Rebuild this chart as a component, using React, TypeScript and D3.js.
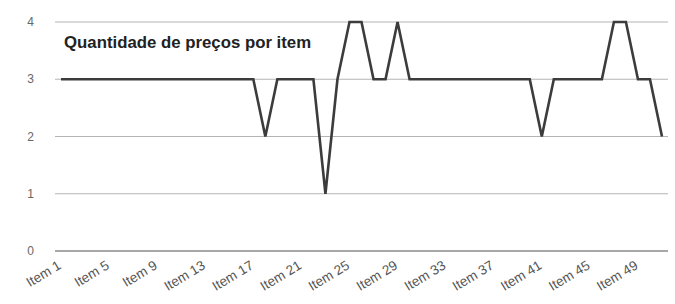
import React, { useEffect, useRef } from 'react';
import * as d3 from 'd3';

// chart values
const items: string[] = d3.range(1, 52).map((i) => `Item ${i}`);
const prices: number[] = [
  3, 3, 3, 3, 3, 3, 3, 3, 3, 3,
  3, 3, 3, 3, 3, 3, 3, 2, 3, 3,
  3, 3, 1, 3, 4, 4, 3, 3, 4, 3,
  3, 3, 3, 3, 3, 3, 3, 3, 3, 3,
  2, 3, 3, 3, 3, 3, 4, 4, 3, 3,
  2,
];
const yTicks: number[] = [0, 1, 2, 3, 4];
const title = 'Quantidade de preços por item';

const W = 675;
const H = 304;

export default function App() {
  const ref = useRef<SVGSVGElement | null>(null);

  useEffect(() => {
    const svg = d3.select(ref.current);
    svg.selectAll('*').remove();

    const margin = { top: 22, right: 7, bottom: 53, left: 55 };

    const x = d3.scaleBand<string>()
      .domain(items)
      .range([margin.left, W - margin.right]);

    const y = d3.scaleLinear()
      .domain([0, 4])
      .range([H - margin.bottom, margin.top]);

    // gridlines
    svg.append('g')
      .selectAll('line')
      .data(yTicks.filter((t) => t > 0))
      .enter().append('line')
      .attr('x1', margin.left)
      .attr('x2', W - margin.right)
      .attr('y1', (d) => y(d))
      .attr('y2', (d) => y(d))
      .attr('stroke', '#b4b4b4')
      .attr('stroke-width', 1.2);

    // base axis
    svg.append('line')
      .attr('x1', margin.left)
      .attr('x2', W - margin.right)
      .attr('y1', y(0))
      .attr('y2', y(0))
      .attr('stroke', '#8a8a8a')
      .attr('stroke-width', 1.6);

    // y labels
    svg.append('g')
      .selectAll('text')
      .data(yTicks)
      .enter().append('text')
      .attr('x', 34)
      .attr('y', (d) => y(d))
      .attr('dy', '0.35em')
      .attr('text-anchor', 'end')
      .attr('fill', '#666')
      .style('font', '12px "Liberation Sans", Arial, sans-serif')
      .text((d) => d);

    // x labels every 4th item
    svg.append('g')
      .selectAll('text')
      .data(items.filter((_, i) => i % 4 === 0))
      .enter().append('text')
      .attr('transform', (d) => `translate(${(x(d) ?? 0) + x.bandwidth() / 2 + 1},${y(0) + 17}) rotate(-31)`)
      .attr('text-anchor', 'end')
      .attr('fill', '#555')
      .style('font', '13.5px "Liberation Sans", Arial, sans-serif')
      .text((d) => d);

    // the line
    const line = d3.line<number>()
      .x((_, i) => (x(items[i]) ?? 0) + x.bandwidth() / 2)
      .y((d) => y(d));

    svg.append('path')
      .datum(prices)
      .attr('d', line)
      .attr('fill', 'none')
      .attr('stroke', '#3c3c3c')
      .attr('stroke-width', 2.6)
      .attr('stroke-linejoin', 'miter');

    // title
    svg.append('text')
      .attr('x', 64)
      .attr('y', 48)
      .attr('fill', '#222')
      .style('font', 'bold 16.8px "Liberation Sans", Arial, sans-serif')
      .text(title);
  }, []);

  return (
    <div style={{ position: 'absolute', left: 0, top: 0 }}>
      <svg ref={ref} width={W} height={H} style={{ display: 'block', background: '#fff' }} />
    </div>
  );
}
